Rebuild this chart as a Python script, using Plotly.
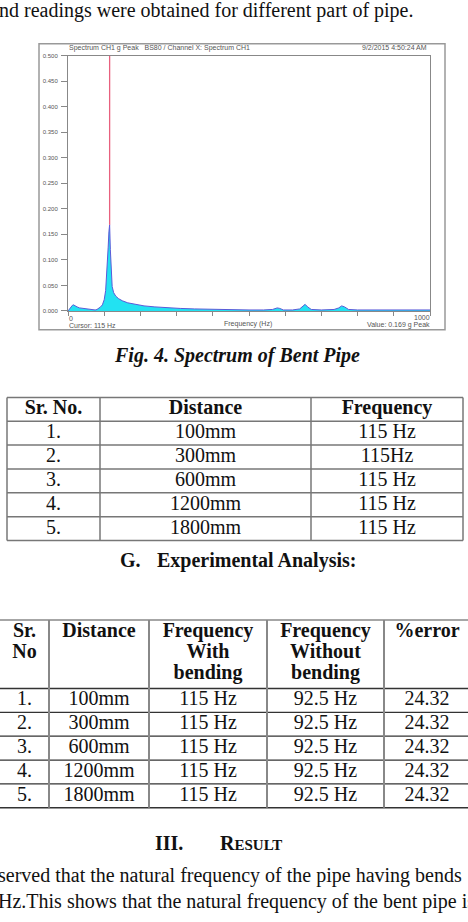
import plotly.graph_objects as go

W, H = 468, 922

# ---------------- data: spectrum ----------------
freq_hz = [0, 4, 8, 12, 15, 19, 25, 32, 40, 50,
           60, 68, 75, 80, 85, 90, 95, 100, 104, 108,
           111, 113, 115, 117, 119, 122, 126, 132, 140, 150,
           165, 185, 210, 240, 275, 310, 350, 400, 450, 500,
           540, 565, 578, 585, 595, 620, 640, 648, 655, 662,
           672, 700, 735, 748, 756, 764, 775, 800, 860, 930,
           1000]
amp_g = [0.000, 0.004, 0.008, 0.011, 0.012, 0.010, 0.008, 0.006, 0.005, 0.004,
         0.003, 0.002, 0.002, 0.003, 0.005, 0.008, 0.012, 0.022, 0.040, 0.080,
         0.125, 0.155, 0.169, 0.120, 0.075, 0.048, 0.036, 0.029, 0.024, 0.020,
         0.016, 0.013, 0.010, 0.008, 0.006, 0.005, 0.004, 0.003, 0.0025, 0.002,
         0.002, 0.003, 0.006, 0.005, 0.002, 0.002, 0.004, 0.009, 0.013, 0.008,
         0.003, 0.002, 0.003, 0.006, 0.010, 0.008, 0.003, 0.002, 0.002, 0.002,
         0.002]
cursor_hz = 115
cursor_value = 0.169
amp_max = 0.5
freq_max = 1000

chart_title = "Spectrum CH1 g Peak   BS80 / Channel X: Spectrum CH1"
chart_date = "9/2/2015 4:50:24 AM"
x_title = "Frequency (Hz)"
cursor_label = "Cursor: 115 Hz"
value_label = "Value: 0.169 g Peak"

# ---------------- data: tables ----------------
t1_headers = ["Sr. No.", "Distance", "Frequency"]
t1_sr = ["1.", "2.", "3.", "4.", "5."]
t1_distance = ["100mm", "300mm", "600mm", "1200mm", "1800mm"]
t1_frequency = ["115 Hz", "115Hz", "115 Hz", "115 Hz", "115 Hz"]

t2_headers = [["Sr.", "No"], ["Distance"], ["Frequency", "With", "bending"],
              ["Frequency", "Without", "bending"], ["%error"]]
t2_sr = ["1.", "2.", "3.", "4.", "5."]
t2_distance = ["100mm", "300mm", "600mm", "1200mm", "1800mm"]
t2_freq_with = ["115 Hz", "115 Hz", "115 Hz", "115 Hz", "115 Hz"]
t2_freq_without = ["92.5 Hz", "92.5 Hz", "92.5 Hz", "92.5 Hz", "92.5 Hz"]
t2_error = ["24.32", "24.32", "24.32", "24.32", "24.32"]

text_top = "nd readings were obtained for different part of pipe."
caption = "Fig. 4. Spectrum of Bent Pipe"
heading_g = ("G.", "Experimental Analysis:")
heading_3 = ("III.", "R", "ESULT")
text_bottom = ["served that the natural frequency of the pipe having bends",
               "Hz.This shows that the natural frequency of the bent pipe is"]

# ---------------- style / geometry ----------------
SERIF = "Liberation Serif"
SANS = "Liberation Sans"
FS = 20

CH_X0, CH_X1 = 68, 430
CH_Y0, CH_Y1 = 53, 310
FRAME = (39, 41, 445, 329)

T1_LEFT, T1_TOP, T1_COLW, T1_ROWH = 7, 397, [93, 211, 152], 24
T2_LEFT, T2_TOP, T2_COLW = 0, 621, [49, 100, 118, 117, 86]
T2_HEADH, T2_ROWH, T2_LINEGAP, T2_FIRST = 69, 24, 21, 12

fig = go.Figure()

# spectrum
fig.add_trace(go.Scatter(x=freq_hz, y=amp_g, mode="lines", fill="tozeroy",
                         fillcolor="#22e2f2", line=dict(color="#5a5ad8", width=1),
                         hoverinfo="skip", showlegend=False, xaxis="x", yaxis="y"))
fig.add_trace(go.Scatter(x=[cursor_hz, cursor_hz], y=[cursor_value, amp_max], mode="lines",
                         line=dict(color="#e8607e", width=1.3),
                         hoverinfo="skip", showlegend=False, xaxis="x", yaxis="y"))


def page_text(x, y, text, size=FS, anchor="left", bold=False, italic=False, shift=0):
    t = text
    if bold:
        t = "<b>" + t + "</b>"
    if italic:
        t = "<i>" + t + "</i>"
    fig.add_annotation(x=x, y=y, xref="x2", yref="y2", text=t, showarrow=False,
                       xanchor=anchor, yanchor="middle", xshift=shift, align="left",
                       font=dict(family=SERIF, size=size, color="#111"))


def cell_texts(xs, ys, texts, bold=False):
    fig.add_trace(go.Scatter(x=xs, y=ys, mode="text",
                             text=[("<b>%s</b>" % t) if bold else t for t in texts],
                             textposition="middle center",
                             textfont=dict(family=SERIF, size=FS, color="#111"),
                             hoverinfo="skip", showlegend=False, cliponaxis=False,
                             xaxis="x2", yaxis="y2"))


def line(x0, y0, x1, y1, color, width):
    fig.add_shape(type="line", x0=x0, y0=y0, x1=x1, y1=y1, xref="x2", yref="y2",
                  line=dict(color=color, width=width))


# ---- table 1
t1_edges = [T1_LEFT]
for w in T1_COLW:
    t1_edges.append(t1_edges[-1] + w)
t1_centers = [(a + b) / 2 for a, b in zip(t1_edges[:-1], t1_edges[1:])]
n1 = len(t1_sr)
t1_bottom = T1_TOP + (n1 + 1) * T1_ROWH
for k in range(n1 + 2):
    yy = T1_TOP + k * T1_ROWH
    line(t1_edges[0], yy, t1_edges[-1], yy, "#777", 1.5)
for e in t1_edges:
    line(e, T1_TOP, e, t1_bottom, "#777", 1.5)
cell_texts(t1_centers, [T1_TOP + T1_ROWH / 2] * 3, t1_headers, bold=True)
for ci, col in enumerate([t1_sr, t1_distance, t1_frequency]):
    ys = [T1_TOP + (r + 1.5) * T1_ROWH for r in range(n1)]
    cell_texts([t1_centers[ci]] * n1, ys, col)

# ---- table 2
t2_edges = [T2_LEFT]
for w in T2_COLW:
    t2_edges.append(t2_edges[-1] + w)
t2_centers = [(a + b) / 2 for a, b in zip(t2_edges[:-1], t2_edges[1:])]
n2 = len(t2_sr)
t2_body_top = T2_TOP + T2_HEADH
t2_bottom = t2_body_top + n2 * T2_ROWH
line(t2_edges[0] - 5, T2_TOP, t2_edges[-1], T2_TOP, "#888", 1.5)
for k in range(n2 + 1):
    yy = t2_body_top + k * T2_ROWH
    line(t2_edges[0] - 5, yy, t2_edges[-1], yy, "#333", 1.3)
for e in t2_edges[1:-1]:
    line(e, T2_TOP, e, t2_bottom, "#888", 2)
for ci, hdr in enumerate(t2_headers):
    ys = [T2_TOP + T2_FIRST + i * T2_LINEGAP for i in range(len(hdr))]
    cell_texts([t2_centers[ci]] * len(hdr), ys, hdr, bold=True)
for ci, col in enumerate([t2_sr, t2_distance, t2_freq_with, t2_freq_without, t2_error]):
    ys = [t2_body_top + (r + 0.5) * T2_ROWH for r in range(n2)]
    cell_texts([t2_centers[ci]] * n2, ys, col)

# ---- page texts
page_text(0, 8, text_top, shift=-3)
page_text(237, 355, caption, anchor="center", bold=True, italic=True)
page_text(118, 561, heading_g[0], bold=True)
page_text(155, 561, heading_g[1], bold=True)
page_text(153, 845, heading_3[0], bold=True)
page_text(218, 845, heading_3[1] + "<span style='font-size:15px'>" + heading_3[2] + "</span>", bold=True)
page_text(0, 891, "<br>".join(text_bottom), shift=-4)

# ---- spectrum frame and labels
fig.add_shape(type="rect", x0=FRAME[0], y0=FRAME[1], x1=FRAME[2], y1=FRAME[3],
              xref="x2", yref="y2", line=dict(color="#999", width=1.5))


def chart_text(x, y, text, anchor="left", size=7):
    fig.add_annotation(x=x, y=y, xref="x2", yref="y2", text=text, showarrow=False,
                       xanchor=anchor, yanchor="middle",
                       font=dict(family=SANS, size=size, color="#555"))


chart_text(67, 45, chart_title)
chart_text(429, 45, chart_date, anchor="right")
chart_text(67, 318, "0")
chart_text(67, 325, cursor_label)
chart_text(248, 323, x_title, anchor="center")
chart_text(432, 317, str(freq_max), anchor="right")
chart_text(432, 324, value_label, anchor="right")

fig.update_layout(
    width=W, height=H, margin=dict(l=0, r=0, t=0, b=0),
    paper_bgcolor="white", plot_bgcolor="rgba(0,0,0,0)",
    showlegend=False,
    xaxis=dict(domain=[CH_X0 / W, CH_X1 / W], range=[0, freq_max],
               showline=True, mirror=True, linecolor="#888", linewidth=1,
               ticks="outside", ticklen=4, tickcolor="#888", dtick=100, tick0=0,
               showticklabels=False, showgrid=False, zeroline=False, fixedrange=True),
    yaxis=dict(domain=[1 - CH_Y1 / H, 1 - CH_Y0 / H], range=[0, amp_max],
               showline=True, mirror=True, linecolor="#888", linewidth=1,
               ticks="outside", ticklen=6, tickcolor="#888", dtick=0.05, tick0=0,
               tickformat=".3f", tickfont=dict(family=SANS, size=6, color="#555"),
               ticklabelstandoff=2,
               showgrid=False, zeroline=False, fixedrange=True),
    xaxis2=dict(domain=[0, 1], range=[0, W], visible=False, fixedrange=True, anchor="y2"),
    yaxis2=dict(domain=[0, 1], range=[H, 0], visible=False, fixedrange=True, anchor="x2"),
)

fig.write_html("out.html")
